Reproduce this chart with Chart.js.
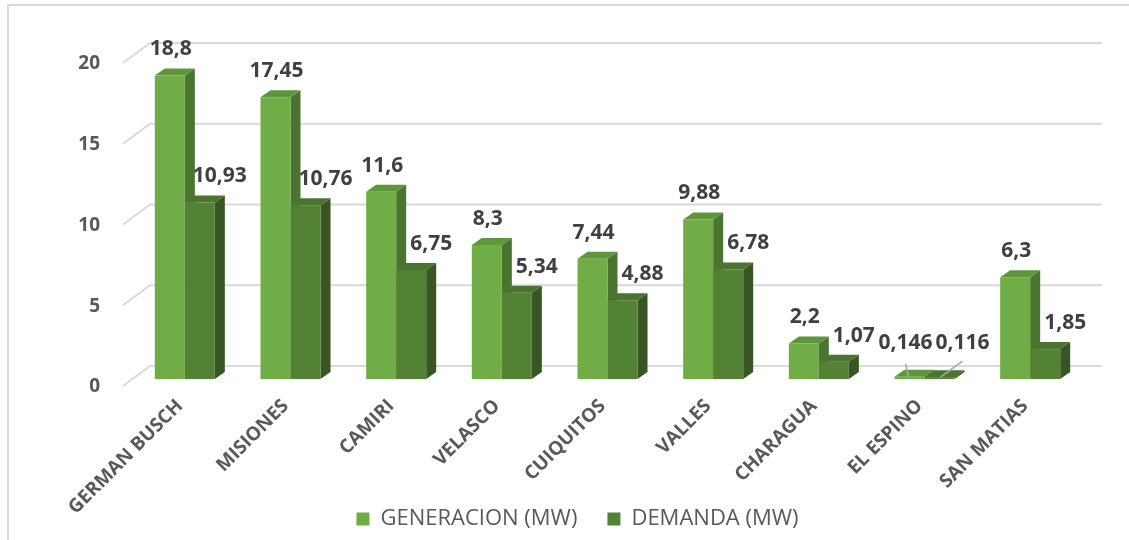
<!DOCTYPE html>
<html>
<head>
<meta charset="utf-8">
<script src="https://cdn.jsdelivr.net/npm/chart.js@4"></script>
<style>
  body { margin: 0; background: #fff; }
  #wrap { width: 1129px; height: 540px; }
</style>
</head>
<body>
<div id="wrap"><canvas id="chart"></canvas></div>
<script>
const categories = ["GERMAN BUSCH", "MISIONES", "CAMIRI", "VELASCO", "CUIQUITOS", "VALLES", "CHARAGUA", "EL ESPINO", "SAN MATIAS"];
const generacion = [18.8, 17.45, 11.6, 8.3, 7.44, 9.88, 2.2, 0.146, 6.3];
const demanda = [10.93, 10.76, 6.75, 5.34, 4.88, 6.78, 1.07, 0.116, 1.85];
const yTicks = [0, 5, 10, 15, 20];

const faces = [
  { front: "#70AD47", top: "#5E963B", side: "#4A7530" },
  { front: "#548235", top: "#4A7530", side: "#375623" }
];
const DX = 10, DY = 7;

// frame around the chart
const framePlugin = {
  id: "frame",
  afterLayout(chart) {
    // let the rotated category labels run past the axis box
    chart.scales.x.bottom = chart.height;
  },
  beforeDraw(chart) {
    const ctx = chart.ctx;
    ctx.save();
    ctx.strokeStyle = "#d9d9d9";
    ctx.lineWidth = 2;
    ctx.beginPath();
    ctx.moveTo(8, 540);
    ctx.lineTo(8, 5);
    ctx.lineTo(1129, 5);
    ctx.stroke();
    ctx.restore();
  }
};

// back wall gridlines + 3d faces of the bars
const depthPlugin = {
  id: "depth",
  beforeDatasetsDraw(chart) {
    const ctx = chart.ctx;
    const y = chart.scales.y;
    const area = chart.chartArea;
    ctx.save();
    ctx.strokeStyle = "#d9d9d9";
    ctx.lineWidth = 2;
    y.ticks.forEach(function (t) {
      const yb = y.getPixelForValue(t.value) - 13;
      ctx.beginPath();
      ctx.moveTo(area.left - 9, yb + 20);
      ctx.lineTo(area.left + 18, yb);
      ctx.lineTo(area.right + 19, yb);
      ctx.stroke();
    });

    const n = chart.data.labels.length;
    for (let i = 0; i < n; i++) {
      chart.data.datasets.forEach(function (ds, d) {
        const bar = chart.getDatasetMeta(d).data[i];
        const p = bar.getProps(["x", "y", "base", "width"], true);
        const l = p.x - p.width / 2, r = p.x + p.width / 2;
        ctx.fillStyle = faces[d].side;
        ctx.beginPath();
        ctx.moveTo(r, p.y);
        ctx.lineTo(r + DX, p.y - DY);
        ctx.lineTo(r + DX, p.base - DY);
        ctx.lineTo(r, p.base);
        ctx.closePath();
        ctx.fill();
        ctx.fillStyle = faces[d].top;
        ctx.beginPath();
        ctx.moveTo(l, p.y);
        ctx.lineTo(l + DX, p.y - DY);
        ctx.lineTo(r + DX, p.y - DY);
        ctx.lineTo(r, p.y);
        ctx.closePath();
        ctx.fill();
      });
    }
    ctx.restore();
  },
  afterDatasetsDraw(chart) {
    const ctx = chart.ctx;
    ctx.save();
    ctx.font = "bold 21px 'Open Sans'";
    ctx.textAlign = "center";
    ctx.textBaseline = "middle";
    chart.data.datasets.forEach(function (ds, d) {
      chart.getDatasetMeta(d).data.forEach(function (bar, i) {
        const v = ds.data[i];
        const txt = String(v).replace(".", ",");
        let x = bar.x + (d === 1 ? 20 : 1);
        let ly = bar.y - 26;
        if (v < 0.5) {
          ly = bar.y - 34;
          x = d === 0 ? bar.x - 4 : bar.x + 23;
          ctx.strokeStyle = "#a6a6a6";
          ctx.lineWidth = 1.5;
          ctx.beginPath();
          if (d === 0) {
            ctx.moveTo(bar.x - 4, bar.y - 13);
            ctx.lineTo(bar.x - 1, bar.y);
          } else {
            ctx.moveTo(bar.x + 23, bar.y - 16);
            ctx.lineTo(bar.x + 1, bar.y);
          }
          ctx.stroke();
        }
        ctx.fillStyle = "#404040";
        ctx.fillText(txt, x, ly);
      });
    });
    ctx.restore();
  }
};

const ctx = document.getElementById("chart").getContext("2d");
const myChart = new Chart(ctx, {
  type: "bar",
  data: {
    labels: categories,
    datasets: [
      {
        label: "GENERACION (MW)",
        data: generacion,
        backgroundColor: faces[0].front,
        borderWidth: 0,
        barPercentage: 1,
        categoryPercentage: 0.568
      },
      {
        label: "DEMANDA (MW)",
        data: demanda,
        backgroundColor: faces[1].front,
        borderWidth: 0,
        barPercentage: 1,
        categoryPercentage: 0.568
      }
    ]
  },
  options: {
    responsive: true,
    maintainAspectRatio: false,
    animation: false,
    layout: { padding: { left: 26, right: 0, top: 56, bottom: 0 } },
    plugins: {
      tooltip: { enabled: false },
      legend: {
        position: "bottom",
        maxHeight: 68,
        labels: {
          boxWidth: 13,
          boxHeight: 13,
          padding: 30,
          color: "#595959",
          font: { family: "'Open Sans'", size: 22 }
        }
      }
    },
    scales: {
      x: {
        grid: { display: false },
        border: { display: false },
        ticks: {
          color: "#595959",
          font: { family: "'Open Sans'", size: 19, weight: "bold" },
          minRotation: 45,
          maxRotation: 45,
          padding: 8,
          labelOffset: -5,
          autoSkip: false
        },
        afterFit(scale) { scale.height = 99; }
      },
      y: {
        min: yTicks[0],
        max: yTicks[yTicks.length - 1],
        grid: { display: false },
        border: { display: false },
        afterBuildTicks(scale) { scale.ticks = yTicks.map(function (v) { return { value: v }; }); },
        ticks: {
          color: "#595959",
          font: { family: "'Open Sans'", size: 19, weight: "bold" },
          padding: 24,
          labelOffset: 8
        },
        afterFit(scale) { scale.width = 106; }
      },
      y2: {
        position: "right",
        display: true,
        grid: { display: false },
        border: { display: false },
        ticks: { display: false },
        afterFit(scale) { scale.width = 46; }
      }
    }
  },
  plugins: [framePlugin, depthPlugin]
});
</script>
</body>
</html>
